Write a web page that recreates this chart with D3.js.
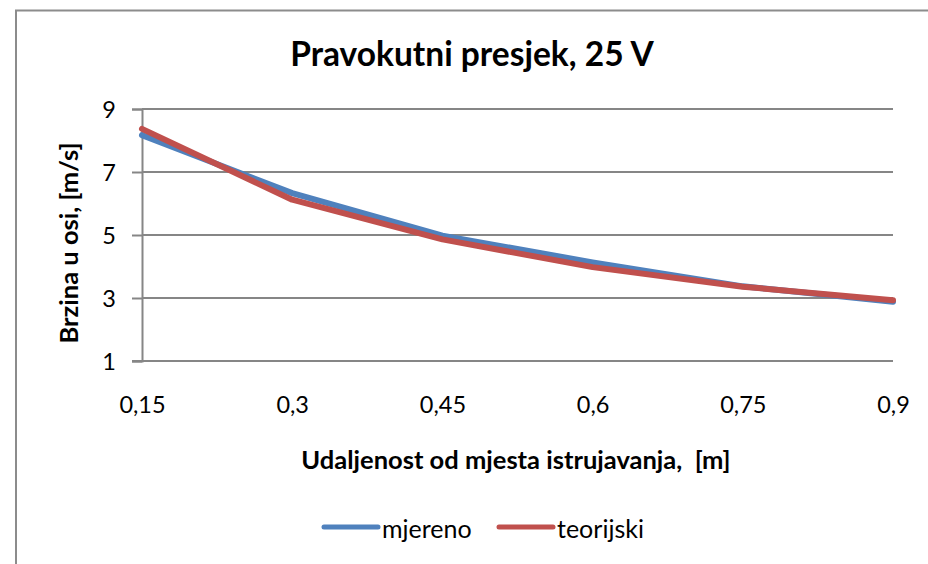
<!DOCTYPE html>
<html>
<head>
<meta charset="utf-8">
<script src="https://cdn.jsdelivr.net/npm/d3@7"></script>
<style>
  html, body { margin: 0; padding: 0; background: #fff; overflow: hidden; }
  svg { display: block; font-family: Lato, "Open Sans", sans-serif; }
</style>
</head>
<body>
<svg id="chart" width="928" height="564"></svg>
<script>
// Distance from the outlet [m] and centreline velocity [m/s]
const categories = ["0,15", "0,3", "0,45", "0,6", "0,75", "0,9"];
const mjereno   = [8.17, 6.33, 4.98, 4.13, 3.37, 2.88];
const teorijski = [8.37, 6.12, 4.86, 3.98, 3.36, 2.93];
const yTicks = [1, 3, 5, 7, 9];

const series = [
  { name: "mjereno",   values: mjereno,   color: "#4F81BD" },
  { name: "teorijski", values: teorijski, color: "#C0504D" }
];

const svg = d3.select("#chart");
const grey = "#868686";

// chart frame
svg.append("path")
  .attr("d", "M16,600 V10.5 H940")
  .attr("fill", "none").attr("stroke", "#8c8c8c").attr("stroke-width", 2);

const x = d3.scalePoint().domain(categories).range([142, 893]).padding(0);
const y = d3.scaleLinear().domain([1, 9]).range([361, 109]);

// horizontal gridlines
svg.append("g").selectAll("line")
  .data(yTicks.filter(t => t > 1))
  .join("line")
  .attr("x1", 142).attr("x2", 893)
  .attr("y1", d => y(d)).attr("y2", d => y(d))
  .attr("stroke", grey).attr("stroke-width", 2);

// y axis
const yAxis = svg.append("g")
  .attr("transform", "translate(142,0)")
  .call(d3.axisLeft(y).tickValues(yTicks).tickSize(10).tickPadding(16).tickFormat(d3.format("d")));
yAxis.select(".domain").attr("stroke", grey).attr("stroke-width", 2);
yAxis.selectAll(".tick line").attr("stroke", grey).attr("stroke-width", 2);
yAxis.selectAll(".tick text")
  .attr("font-size", 23.5).attr("fill", "#000").attr("font-family", "Lato, sans-serif")
  .attr("dy", "0.36em");

// x axis
const xAxis = svg.append("g")
  .attr("transform", "translate(0,361)")
  .call(d3.axisBottom(x).tickSize(0));
xAxis.select(".domain").attr("stroke", grey).attr("stroke-width", 2).attr("d", "M132,0H893");
xAxis.selectAll(".tick text")
  .attr("font-size", 23.5).attr("fill", "#000").attr("font-family", "Lato, sans-serif")
  .attr("y", 52).attr("dy", 0);

// series lines
const line = d3.line()
  .x((d, i) => x(categories[i]))
  .y(d => y(d));

svg.append("g").selectAll("path")
  .data(series)
  .join("path")
  .attr("d", d => line(d.values))
  .attr("fill", "none")
  .attr("stroke", d => d.color)
  .attr("stroke-width", 6)
  .attr("stroke-linejoin", "round")
  .attr("stroke-linecap", "round");

// title
svg.append("text")
  .attr("x", 472).attr("y", 66)
  .attr("text-anchor", "middle")
  .attr("font-size", 33.5).attr("font-weight", "bold")
  .text("Pravokutni presjek, 25 V");

// axis titles
svg.append("text")
  .attr("x", 516).attr("y", 469)
  .attr("text-anchor", "middle")
  .attr("font-size", 25.5).attr("font-weight", "bold")
  .attr("xml:space", "preserve")
  .text("Udaljenost od mjesta istrujavanja,  [m]");

svg.append("text")
  .attr("transform", "translate(78,243) rotate(-90)")
  .attr("text-anchor", "middle")
  .attr("font-size", 25.5).attr("font-weight", "bold")
  .text("Brzina u osi, [m/s]");

// legend
const legendX = [322, 497];
const legend = svg.append("g").selectAll("g")
  .data(series)
  .join("g")
  .attr("transform", (d, i) => `translate(${legendX[i]},527)`);
legend.append("line")
  .attr("x1", 2).attr("x2", 56)
  .attr("stroke", d => d.color).attr("stroke-width", 5)
  .attr("stroke-linecap", "round");
legend.append("text")
  .attr("x", 60).attr("y", 11)
  .attr("font-size", 25)
  .text(d => d.name);
</script>
</body>
</html>
